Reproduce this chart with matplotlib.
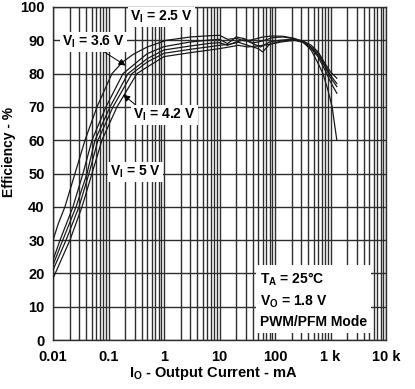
import numpy as np
import matplotlib
matplotlib.use("Agg")
import matplotlib.pyplot as plt

plt.rcParams['font.family'] = ['Liberation Sans', 'DejaVu Sans']
plt.rcParams['font.weight'] = 'bold'
plt.rcParams['mathtext.fontset'] = 'custom'
plt.rcParams['mathtext.rm'] = 'Liberation Sans:bold'
plt.rcParams['mathtext.it'] = 'Liberation Sans:bold'
plt.rcParams['mathtext.bf'] = 'Liberation Sans:bold'

# efficiency curves, output current in mA
i_25 = [0.01, 0.0125, 0.0164, 0.0249, 0.0377, 0.062, 0.09, 0.1155, 0.18, 0.28, 0.5, 1.1, 3, 7, 10,
        14, 20, 28, 40, 60, 90, 140, 220, 320, 450, 600, 730, 900, 1070, 1300]
e_25 = [30, 35, 40, 50, 60, 70, 76, 80, 83.5, 85.8, 88, 90, 91, 91.4, 91.5,
        90.3, 90.6, 89.8, 90.2, 91.0, 91.3, 91.2, 90.6, 89.5, 87, 83, 80, 75, 70, 60]

i_27 = [0.01, 0.0134, 0.0229, 0.0347, 0.0504, 0.0901, 0.1826, 0.5, 1, 3, 6.8,
        10, 14, 20, 28, 40, 60, 90, 140, 220, 320, 450, 600, 800, 1000, 1300]
e_27 = [24, 30, 40, 50, 60, 70, 80, 86, 88.1, 89.5, 90.1,
        90.3, 89.0, 91.0, 90.5, 89.2, 89.8, 90.8, 91.0, 90.5, 89.8, 88.5, 86.5, 83, 80.5, 78.6]

i_36 = [0.01, 0.015, 0.026, 0.041, 0.0571, 0.1064, 0.2243, 0.5, 1, 3, 6.8,
        10, 14, 20, 28, 40, 55, 80, 120, 200, 320, 450, 600, 800, 1000, 1300]
e_36 = [22.5, 30, 40, 50, 60, 70, 80, 84.5, 87.1, 88.3, 89.1,
        89.3, 88.5, 89.5, 90.2, 89.0, 88.0, 89.5, 90.0, 90.3, 89.6, 88.0, 86, 82.5, 79.5, 77]

i_42 = [0.01, 0.0172, 0.0294, 0.0445, 0.0646, 0.1204, 0.2646, 0.5, 1, 3, 6.8,
        10, 15, 22, 32, 50, 60, 80, 130, 220, 320, 450, 600, 800, 1000, 1300]
e_42 = [21, 30, 40, 50, 60, 70, 80, 83.5, 86.1, 87.3, 88.1,
        88.5, 88.8, 89.4, 88.5, 87.5, 86.5, 88.8, 89.8, 90.2, 89.5, 87.8, 85.5, 82, 78.8, 76.1]

i_50 = [0.01, 0.0202, 0.0333, 0.0504, 0.0762, 0.1422, 0.3256, 0.5, 1, 3, 6.8,
        10, 15, 22, 32, 50, 80, 130, 220, 320, 450, 600, 800, 1000, 1300]
e_50 = [18.5, 30, 40, 50, 60, 70, 80, 82, 85.1, 86.3, 87.1,
        87.5, 88.0, 88.5, 88.0, 88.3, 88.8, 89.5, 90.0, 89.4, 87.5, 85, 81, 77.5, 74.1]

curves = [(i_25, e_25), (i_27, e_27), (i_36, e_36), (i_42, e_42), (i_50, e_50)]

x_ticks = [0.01, 0.1, 1, 10, 100, 1000, 10000]
x_labels = ['0.01', '0.1', '1', '10', '100', '1 k', '10 k']
y_ticks = list(range(0, 101, 10))

fig = plt.figure(figsize=(4.15, 3.89), dpi=100)
ax = fig.add_axes([53 / 415, 49 / 389, 333 / 415, 333 / 389])

for cur, eff in curves:
    ax.plot(cur, eff, color='#1a1a1a', lw=0.9, zorder=3)

ax.set_xscale('log')
ax.set_xlim(0.01, 10000)
ax.set_ylim(0, 100)
ax.set_xticks(x_ticks)
ax.set_xticklabels(x_labels)
ax.set_yticks(y_ticks)
ax.xaxis.set_minor_locator(matplotlib.ticker.LogLocator(base=10, subs=np.arange(2, 10)))
ax.xaxis.set_minor_formatter(matplotlib.ticker.NullFormatter())
ax.grid(True, which='both', axis='x', color='#2e2e2e', lw=1.0)
ax.grid(True, which='major', axis='y', color='#2e2e2e', lw=1.0)
ax.tick_params(which='both', length=0, labelsize=10.5)
ax.tick_params(axis='x', pad=7)
ax.tick_params(axis='y', pad=6)
for lbl in ax.get_xticklabels() + ax.get_yticklabels():
    lbl.set_fontweight('bold')
for s in ax.spines.values():
    s.set_color('#2e2e2e')
    s.set_linewidth(1.0)

fig.text(213 / 415, 1 - 374 / 389, 'I$_\\mathrm{O}$ - Output Current - mA', fontsize=10.5,
         fontweight='bold', ha='center', va='center')
fig.text(9 / 415, 1 - 152 / 389, 'Efficiency - %', fontsize=10, fontweight='bold',
         ha='center', va='center', rotation=90)

box = dict(facecolor='white', edgecolor='none', pad=1.5)
ax.text(0.246, 97, 'V$_\\mathrm{I}$ = 2.5 V', fontsize=10, fontweight='bold', va='center', bbox=box, zorder=5)
ax.annotate('', xy=(0.224, 82), xytext=(0.0464, 89.2),
            arrowprops=dict(arrowstyle='-|>', color='black', lw=0.7, mutation_scale=10), zorder=4)
ax.text(0.0145, 89.5, 'V$_\\mathrm{I}$ = 3.6 V', fontsize=10, fontweight='bold', va='center', bbox=box, zorder=5)
ax.annotate('', xy=(0.168, 74.2), xytext=(0.34, 70),
            arrowprops=dict(arrowstyle='-|>', color='black', lw=0.7, mutation_scale=10), zorder=4)
ax.text(0.276, 67.6, 'V$_\\mathrm{I}$ = 4.2 V', fontsize=10, fontweight='bold', va='center', bbox=box, zorder=5)
ax.text(0.106, 50.5, 'V$_\\mathrm{I}$ = 5 V', fontsize=10, fontweight='bold', va='center', bbox=box, zorder=5)

ax.text(53.7, 12, 'T$_\\mathrm{A}$ = 25°C\nV$_\\mathrm{O}$ = 1.8 V\nPWM/PFM Mode', fontsize=10,
        fontweight='bold', va='center', linespacing=1.45,
        bbox=dict(facecolor='white', edgecolor='none', pad=3), zorder=5)

fig.savefig('out.png', dpi=100)
